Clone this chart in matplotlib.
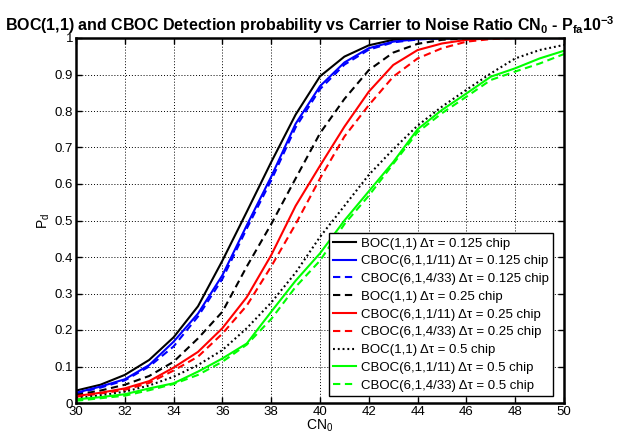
import matplotlib
matplotlib.use("Agg")
import matplotlib.pyplot as plt
import numpy as np

cn0 = list(range(30, 51))

boc_0125 = [0.034, 0.05, 0.077, 0.118, 0.18, 0.265, 0.39, 0.524, 0.66, 0.79, 0.895,
            0.949, 0.98, 0.995, 0.999, 1, 1, 1, 1, 1, 1]
cboc11_0125 = [0.028, 0.045, 0.065, 0.104, 0.168, 0.245, 0.35, 0.487, 0.62, 0.765, 0.868,
               0.933, 0.972, 0.99, 0.997, 0.999, 1, 1, 1, 1, 1]
cboc433_0125 = [0.026, 0.042, 0.062, 0.1, 0.155, 0.237, 0.34, 0.478, 0.61, 0.755, 0.86,
                0.927, 0.968, 0.988, 0.996, 0.999, 1, 1, 1, 1, 1]
boc_025 = [0.022, 0.034, 0.05, 0.074, 0.113, 0.177, 0.25, 0.374, 0.49, 0.615, 0.739,
           0.833, 0.912, 0.96, 0.984, 0.995, 0.999, 1, 1, 1, 1]
cboc11_025 = [0.019, 0.028, 0.04, 0.06, 0.097, 0.14, 0.205, 0.29, 0.405, 0.54, 0.65,
              0.757, 0.853, 0.926, 0.967, 0.985, 0.995, 0.999, 1, 1, 1]
cboc433_025 = [0.017, 0.026, 0.036, 0.055, 0.089, 0.127, 0.19, 0.267, 0.374, 0.49, 0.615,
               0.73, 0.816, 0.894, 0.944, 0.972, 0.99, 0.997, 1, 1, 1]
boc_05 = [0.013, 0.021, 0.031, 0.048, 0.072, 0.104, 0.145, 0.205, 0.275, 0.357, 0.455,
          0.54, 0.625, 0.695, 0.76, 0.812, 0.858, 0.903, 0.944, 0.967, 0.981]
cboc11_05 = [0.01, 0.016, 0.024, 0.04, 0.054, 0.086, 0.122, 0.163, 0.25, 0.335, 0.41,
             0.5, 0.58, 0.66, 0.75, 0.803, 0.848, 0.894, 0.917, 0.944, 0.965]
cboc433_05 = [0.006, 0.013, 0.02, 0.035, 0.052, 0.077, 0.113, 0.16, 0.23, 0.318, 0.39,
              0.49, 0.568, 0.655, 0.742, 0.794, 0.839, 0.885, 0.908, 0.93, 0.956]

labels = [
    "BOC(1,1) Δτ = 0.125 chip",
    "CBOC(6,1,1/11) Δτ = 0.125 chip",
    "CBOC(6,1,4/33) Δτ = 0.125 chip",
    "BOC(1,1) Δτ = 0.25 chip",
    "CBOC(6,1,1/11) Δτ = 0.25 chip",
    "CBOC(6,1,4/33) Δτ = 0.25 chip",
    "BOC(1,1) Δτ = 0.5 chip",
    "CBOC(6,1,1/11) Δτ = 0.5 chip",
    "CBOC(6,1,4/33) Δτ = 0.5 chip",
]
series = [boc_0125, cboc11_0125, cboc433_0125, boc_025, cboc11_025, cboc433_025,
          boc_05, cboc11_05, cboc433_05]
colors = ["black", "#0000ff", "#0000ff", "black", "#ff0000", "#ff0000",
          "black", "#00ff00", "#00ff00"]
dash = (0, (3.5, 2.2))
dot = (0, (0.9, 1.4))
styles = ["-", "-", dash, dash, "-", dash, dot, "-", dash]

plt.rcParams['font.family'] = ['Liberation Sans', 'DejaVu Sans']
plt.rcParams['mathtext.default'] = 'regular'

fig = plt.figure(figsize=(6.18, 4.37), dpi=100)
ax = fig.add_axes([76/618, 34/437, 488/618, 365/437])

for y, c, ls, lab in zip(series, colors, styles, labels):
    ax.plot(cn0, y, color=c, linestyle=ls, linewidth=1.5, label=lab)

ax.set_xlim(30, 50)
ax.set_ylim(0, 1)
ax.set_xticks(range(30, 51, 2))
ax.set_yticks(np.arange(0, 1.01, 0.1))
ax.set_yticklabels(["0", "0.1", "0.2", "0.3", "0.4", "0.5", "0.6", "0.7", "0.8", "0.9", "1"])
ax.grid(True, color="black", linestyle=(0, (1, 2)), linewidth=0.7)
ax.tick_params(direction="in", top=True, right=True, labelsize=9.5, length=4, width=1, pad=2)
for s in ax.spines.values():
    s.set_linewidth(1.8)

ax.set_xlabel("CN$_0$", fontsize=10, labelpad=0)
ax.set_ylabel("P$_d$", fontsize=10, labelpad=2)
ax.set_title("BOC(1,1) and CBOC Detection probability vs Carrier to Noise Ratio CN$_0$ - P$_{fa}$10$^{-3}$",
             fontsize=11.5, fontweight="bold", pad=5, x=0.48)

leg = ax.legend(loc="lower right", bbox_to_anchor=(0.977, 0.02), fontsize=9.5,
                frameon=True, fancybox=False, framealpha=1, edgecolor="black",
                handlelength=1.75, handletextpad=0.38, labelspacing=0.42, borderpad=0.3,
                borderaxespad=0)
leg.get_frame().set_linewidth(1.0)

fig.savefig("out.png", dpi=100)
